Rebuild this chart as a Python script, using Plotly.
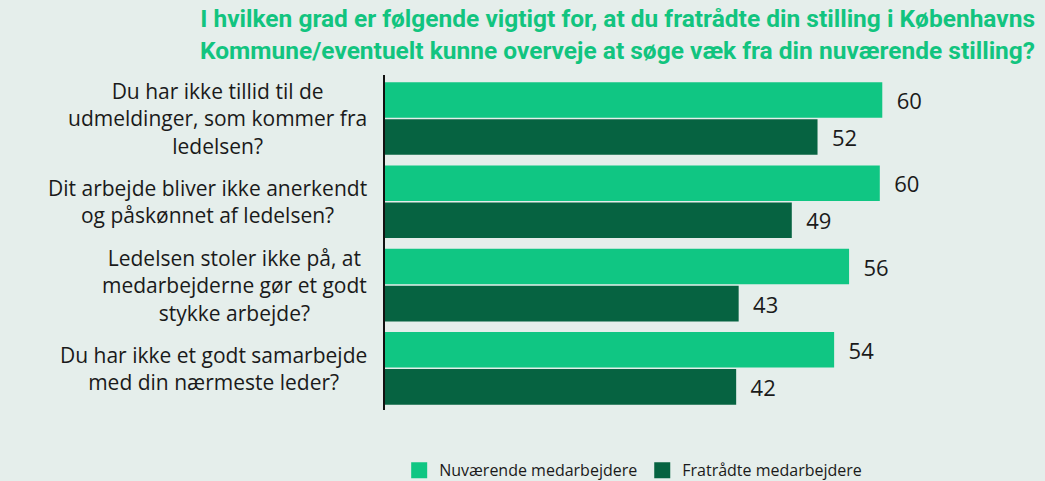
import plotly.graph_objects as go

BG = "#e5eeeb"
LIGHT = "#10c683"
DARK = "#066341"
TITLE_GREEN = "#12c47f"
FONT = "Open Sans"

questions = [
    "Du har ikke tillid til de<br>udmeldinger, som kommer fra<br>ledelsen?",
    "Dit arbejde bliver ikke anerkendt<br>og påskønnet af ledelsen?",
    "Ledelsen stoler ikke på, at<br>medarbejderne gør et godt<br>stykke arbejde?",
    "Du har ikke et godt samarbejde<br>med din nærmeste leder?",
]
current = [59.9, 59.6, 55.9, 54.1]
former = [52.1, 49.0, 42.6, 42.3]
series_names = ["Nuværende medarbejdere", "Fratrådte medarbejdere"]
title_text = (
    "I hvilken grad er følgende vigtigt for, at du fratrådte din stilling i Københavns<br>"
    "Kommune/eventuelt kunne overveje at søge væk fra din nuværende stilling?"
)

PAD = "\u00a0\u00a0"

fig = go.Figure()
for name, vals, color in [(series_names[0], current, LIGHT), (series_names[1], former, DARK)]:
    fig.add_trace(
        go.Bar(
            x=vals,
            y=questions,
            orientation="h",
            name=name,
            marker_color=color,
            marker_line_width=0,
            text=[PAD + f"{v:.0f}" for v in vals],
            textposition="outside",
            textfont=dict(family=FONT, size=22, color="#1a1a1a"),
            cliponaxis=False,
            showlegend=False,
        )
    )
    # legend stand-in with larger square symbol
    fig.add_trace(
        go.Scatter(
            x=[None],
            y=[None],
            mode="markers",
            name=name,
            marker=dict(symbol="square", size=16, color=color),
        )
    )

for q in questions:
    fig.add_annotation(
        x=-0.024, xref="paper", xanchor="right",
        y=q, yref="y", yanchor="middle",
        text=q, align="center", showarrow=False,
        font=dict(family=FONT, size=21, color="#1a1a1a"),
    )

fig.add_annotation(
    x=1, xref="paper", xanchor="right", xshift=-8,
    y=1.224, yref="paper", yanchor="top", yshift=-2,
    text="<b>" + title_text.replace("<br>", "</b><br><b>") + "</b>",
    align="right", showarrow=False,
    font=dict(family="Roboto", size=24.5, color=TITLE_GREEN),
)

fig.update_layout(
    width=1045,
    height=481,
    paper_bgcolor=BG,
    plot_bgcolor=BG,
    barmode="group",
    bargap=0.11,
    bargroupgap=0.04,
    margin=dict(l=385, r=0, t=75, b=71, autoexpand=False),
    legend=dict(
        orientation="h",
        x=0.382, xref="container", xanchor="left",
        y=-0.18, yref="paper", yanchor="middle",
        font=dict(family=FONT, size=16, color="#1a1a1a"),
        bgcolor="rgba(0,0,0,0)",
        itemwidth=30,
    ),
)
fig.update_xaxes(range=[0, 79.5], visible=False, showgrid=False, zeroline=False)
fig.update_yaxes(
    autorange="reversed",
    showticklabels=False,
    showgrid=False,
    showline=True,
    linecolor="#111111",
    linewidth=2,
    ticks="",
)

fig.write_html(
    "out.html",
    config={"displayModeBar": False},
    post_script="document.body.style.margin='0';",
)
